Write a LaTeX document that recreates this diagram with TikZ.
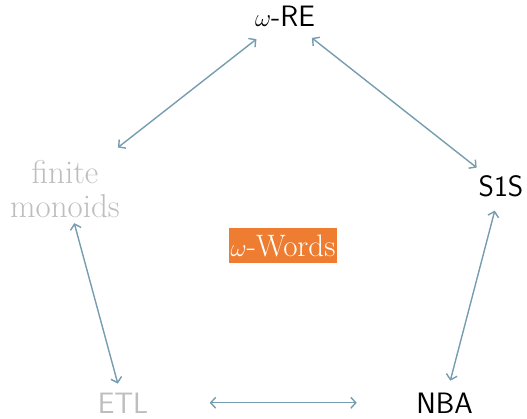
\documentclass[tikz,border=0pt]{standalone}
\usepackage{fontspec}
\usepackage{tikz}
\usetikzlibrary{arrows.meta}
\definecolor{linkcol}{RGB}{118,156,176}
\definecolor{fadecol}{RGB}{190,190,190}
\definecolor{boxcol}{RGB}{238,125,49}
\tikzset{
  every node/.style={font=\fontsize{29.5}{34}\selectfont\sffamily},
  fmla/.style={text=black, anchor=base},
  lowrow/.style={inner ysep=1pt},
  faded/.style={text=fadecol, font=\fontsize{33}{34}\selectfont\rmfamily, align=center},
  link/.style={<->, line width=1.4pt, linkcol}
}

\begin{document}
\begin{tikzpicture}[x=1pt, y=1pt, >={Straight Barb[length=5pt,width=11pt]}]

  % Frame.
  \useasboundingbox (0,0) rectangle (527,418);

  % Formalisms round the pentagon.
  \node[fmla] (ore) at (285,391) {$\omega$-RE};
  \node[fmla] (sis) at (501,221) {S1S};
  \node[fmla, lowrow] (nba) at (444.5,5) {NBA};
  \node[fmla, lowrow, text=fadecol] (etl) at (123,5) {ETL};
  \node[faded] (fmon) at (65,229) {finite\\monoids};

  % Centre label.
  \node[fill=boxcol, text=white, inner xsep=2pt, minimum height=35pt,
    font=\fontsize{31}{34}\selectfont\rmfamily] (words) at (283,172.5) {$\omega$-Words};

  % Equivalences.
  \draw[link, shorten <=14pt, shorten >=15pt] (ore) -- (fmon);
  \draw[link, shorten <=12pt, shorten >=8pt] (ore) -- (sis);
  \draw[link, shorten <=10pt, shorten >=11pt] (sis) -- (nba);
  \draw[link, shorten <=2pt, shorten >=8pt] (fmon) -- (etl);
  \draw[link, shorten <=58pt, shorten >=56pt] (etl) -- (nba);

\end{tikzpicture}
\end{document}
